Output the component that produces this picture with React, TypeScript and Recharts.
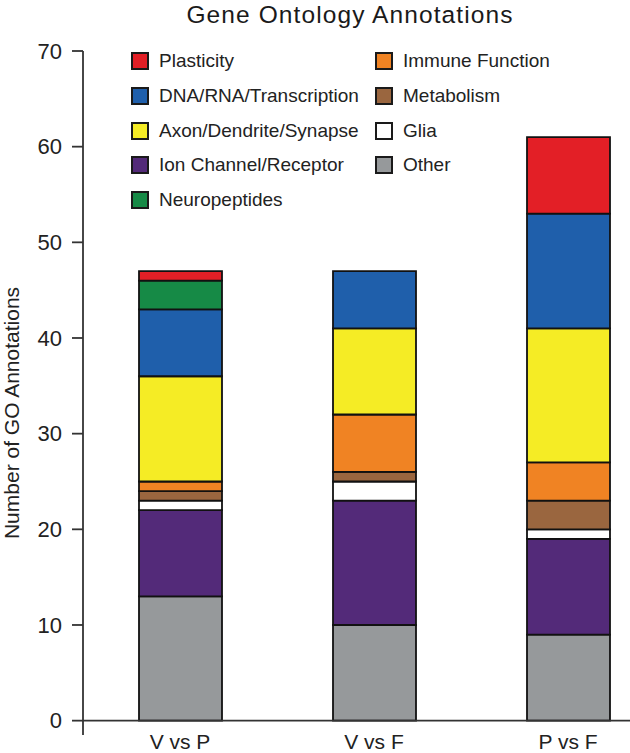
import { Bar, BarChart, Legend, ReferenceLine, XAxis, YAxis } from "recharts";

const FONT = '"Liberation Sans", Arial, Helvetica, sans-serif';

// comparisons on the x axis
const categories = ["V vs P", "V vs F", "P vs F"];

// counts per annotation class
const other = [13, 10, 9];
const ionChannel = [9, 13, 10];
const glia = [1, 2, 1];
const metabolism = [1, 1, 3];
const immune = [1, 6, 4];
const axon = [11, 9, 14];
const dna = [7, 6, 12];
const neuropeptides = [3, 0, 0];
const plasticity = [1, 0, 8];

const yTicks = [0, 10, 20, 30, 40, 50, 60, 70];

// stack order, bottom to top
const series = [
  { key: "other", name: "Other", color: "#96999b", values: other },
  { key: "ion", name: "Ion Channel/Receptor", color: "#532a79", values: ionChannel },
  { key: "glia", name: "Glia", color: "#ffffff", values: glia },
  { key: "metabolism", name: "Metabolism", color: "#9a663f", values: metabolism },
  { key: "immune", name: "Immune Function", color: "#f08323", values: immune },
  { key: "axon", name: "Axon/Dendrite/Synapse", color: "#f5ec25", values: axon },
  { key: "dna", name: "DNA/RNA/Transcription", color: "#1f5fab", values: dna },
  { key: "neuro", name: "Neuropeptides", color: "#168a46", values: neuropeptides },
  { key: "plasticity", name: "Plasticity", color: "#e31f26", values: plasticity },
];

const legendCol1 = ["plasticity", "dna", "axon", "ion", "neuro"];
const legendCol2 = ["immune", "metabolism", "glia", "other"];

const data = categories.map((category, i) => {
  const row: Record<string, string | number> = { category };
  series.forEach((s) => {
    row[s.key] = s.values[i];
  });
  return row;
});

const AXIS = "#333";

function LegendBox() {
  const item = (key: string, left: number, row: number) => {
    const s = series.find((x) => x.key === key)!;
    return (
      <div
        key={key}
        style={{
          position: "absolute",
          left,
          top: 52 + row * 34.8,
          height: 18,
          display: "flex",
          alignItems: "center",
          whiteSpace: "nowrap",
        }}
      >
        <span
          style={{
            width: 18,
            height: 18,
            boxSizing: "border-box",
            border: "2px solid #1a1a1a",
            background: s.color,
            marginRight: 10,
          }}
        />
        <span style={{ fontSize: 19, color: "#222", fontFamily: FONT, lineHeight: "18px" }}>
          {s.name}
        </span>
      </div>
    );
  };
  return (
    <div style={{ position: "relative" }}>
      {legendCol1.map((k, i) => item(k, 131, i))}
      {legendCol2.map((k, i) => item(k, 375, i))}
    </div>
  );
}

export default function App() {
  return (
    <div
      style={{
        position: "fixed",
        top: 0,
        left: 0,
        width: 630,
        height: 753,
        overflow: "hidden",
        background: "#fff",
        fontFamily: FONT,
      }}
    >
      <div
        style={{
          position: "absolute",
          top: 1,
          left: 0,
          width: 700,
          textAlign: "center",
          fontSize: 24.5,
          lineHeight: "27px",
          color: "#1a1a1a",
          letterSpacing: 1.1,
        }}
      >
        Gene Ontology Annotations
      </div>
      <BarChart
        width={665}
        height={753}
        data={data}
        margin={{ top: 51, right: 0, bottom: 0, left: 0 }}
        barSize={83}
      >
        <XAxis
          dataKey="category"
          axisLine={false}
          tickLine={false}
          tickSize={0}
          tickMargin={0}
          height={18}
          interval={0}
          tick={{ fill: "#222", fontSize: 21, fontFamily: FONT, dy: -1 }}
        />
        <YAxis
          type="number"
          domain={[-1.5, 70]}
          ticks={yTicks}
          width={83}
          allowDataOverflow
          axisLine={{ stroke: AXIS, strokeWidth: 1.8 }}
          tickLine={{ stroke: AXIS, strokeWidth: 1.8 }}
          tickSize={11}
          tickMargin={10}
          tick={{ fill: "#222", fontSize: 22, fontFamily: FONT }}
          label={{
            content: ({ viewBox }: any) => {
              const cy = viewBox.y + viewBox.height / 2 + 20;
              return (
                <text
                  x={19}
                  y={cy}
                  transform={`rotate(-90, 19, ${cy})`}
                  textAnchor="middle"
                  fill="#222"
                  fontSize={21}
                  fontFamily={FONT}
                >
                  Number of GO Annotations
                </text>
              );
            },
          }}
        />
        <ReferenceLine y={0} stroke={AXIS} strokeWidth={1.8} />
        <Legend
          layout="horizontal"
          verticalAlign="middle"
          align="center"
          content={() => <LegendBox />}
          wrapperStyle={{ position: "absolute", top: 0, left: 0, width: 630, height: 0 }}
        />
        {series.map((s) => (
          <Bar
            key={s.key}
            dataKey={s.key}
            name={s.name}
            stackId="go"
            fill={s.color}
            stroke="#111"
            strokeWidth={1.8}
            isAnimationActive={false}
          />
        ))}
      </BarChart>
    </div>
  );
}
